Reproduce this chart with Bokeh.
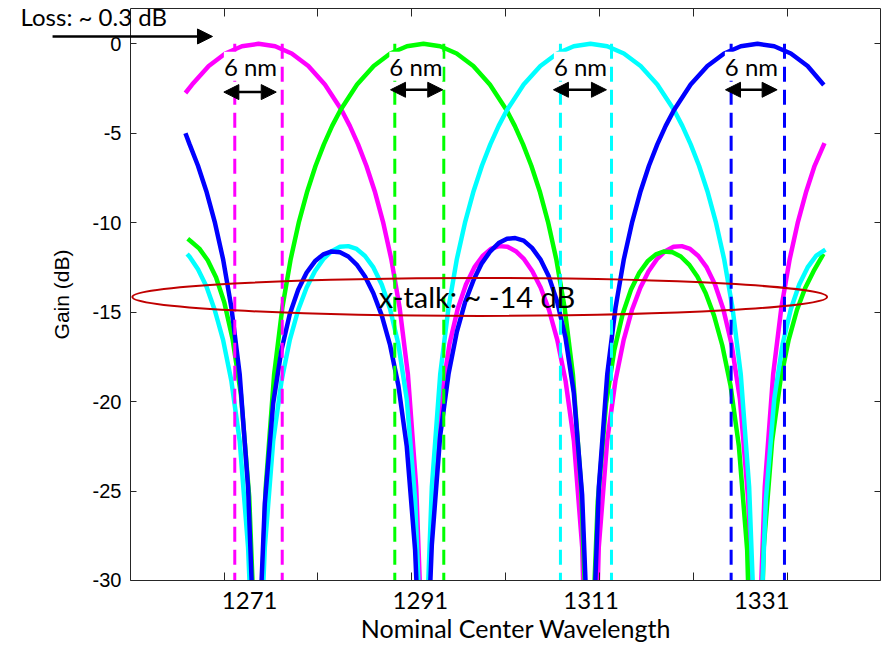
from bokeh.plotting import figure
from bokeh.models import FixedTicker, LinearAxis, Arrow, NormalHead, Label, Range1d, ColumnDataSource
from bokeh.core.properties import value
from bokeh.embed import file_html
from bokeh.resources import INLINE

# ---------------- data ----------------
mag_x = [1263.47, 1264.25, 1266.20, 1268.14, 1270.09, 1272.03, 1273.98, 1275.92, 1277.87, 1279.81,
         1281.76, 1282.73, 1283.70, 1284.67, 1285.65, 1286.62, 1287.59, 1288.56, 1289.54, 1290.51,
         1291.00, 1291.48, 1291.97, 1292.45, 1293.43, 1294.40, 1295.37, 1296.34, 1297.32, 1298.29,
         1299.26, 1300.23, 1301.21, 1302.18, 1303.15, 1304.12, 1305.10, 1306.07, 1307.04, 1308.01,
         1308.99, 1309.96, 1310.93, 1311.90, 1312.88, 1313.85, 1314.82, 1315.79, 1316.77, 1317.74,
         1318.71, 1319.68, 1320.66, 1321.63, 1322.60, 1323.57, 1324.55, 1325.52, 1326.49, 1327.46,
         1328.44, 1329.41, 1329.90, 1330.38, 1330.87, 1331.35, 1332.33, 1333.30, 1334.27, 1335.24,
         1336.22, 1337.19, 1338.35]
mag_y = [-2.75, -2.28, -1.24, -0.54, -0.14, 0.00, -0.14, -0.54, -1.24, -2.28,
         -3.70, -4.59, -5.62, -6.82, -8.24, -9.95, -12.04, -14.73, -18.49, -24.79,
         -31.0, -45, -31.3, -25.47, -19.86, -16.80, -14.82, -13.45, -12.50, -11.86,
         -11.47, -11.31, -11.35, -11.59, -12.04, -12.71, -13.64, -14.88, -16.55, -18.84,
         -22.22, -28.15, -45, -28.15, -22.22, -18.84, -16.55, -14.88, -13.64, -12.71,
         -12.04, -11.59, -11.35, -11.31, -11.47, -11.86, -12.50, -13.45, -14.82, -16.80,
         -19.86, -25.47, -31.3, -45, -31.0, -24.79, -18.49, -14.73, -12.04, -9.95,
         -8.24, -6.82, -5.55]

grn_x = [1263.74, 1264.13, 1265.10, 1266.08, 1267.05, 1268.02, 1268.99, 1269.97, 1270.94, 1271.42,
         1271.91, 1272.40, 1272.88, 1273.86, 1274.83, 1275.80, 1276.77, 1277.75, 1278.72, 1279.69,
         1280.66, 1281.64, 1283.58, 1285.53, 1287.47, 1289.42, 1291.36, 1293.31, 1295.25, 1297.20,
         1299.14, 1301.09, 1302.06, 1303.03, 1304.00, 1304.98, 1305.95, 1306.92, 1307.89, 1308.87,
         1309.84, 1310.32, 1310.81, 1311.30, 1311.78, 1312.76, 1313.73, 1314.70, 1315.67, 1316.65,
         1317.62, 1318.59, 1319.56, 1320.54, 1321.51, 1322.48, 1323.45, 1324.43, 1325.40, 1326.37,
         1327.34, 1328.32, 1329.29, 1330.26, 1331.23, 1332.21, 1333.18, 1334.15, 1335.12, 1336.10,
         1337.07, 1338.23]
grn_y = [-10.9, -11.05, -11.45, -12.1, -13.05, -14.45, -16.5, -19.6, -25.3, -31.2,
         -45, -31.0, -24.79, -18.49, -14.73, -12.04, -9.95, -8.24, -6.82, -5.62,
         -4.59, -3.70, -2.28, -1.24, -0.54, -0.14, 0.0, -0.14, -0.54, -1.24,
         -2.28, -3.70, -4.59, -5.62, -6.82, -8.24, -9.95, -12.04, -14.73, -18.49,
         -24.79, -31.0, -45, -31.3, -25.6, -20.1, -17.1, -15.1, -13.75, -12.8,
         -12.16, -11.77, -11.61, -11.65, -11.89, -12.34, -13.01, -13.94, -15.18, -16.85,
         -19.1, -22.5, -28.3, -45, -28.15, -22.22, -18.84, -16.55, -14.88, -13.64,
         -12.71, -11.75]

cyn_x = [1263.67, 1263.96, 1264.94, 1265.92, 1266.90, 1267.88, 1268.85, 1269.83, 1270.81, 1271.20,
         1271.79, 1272.38, 1272.77, 1273.75, 1274.73, 1275.70, 1276.68, 1277.66, 1278.64, 1279.62,
         1280.60, 1281.58, 1282.55, 1283.53, 1284.51, 1285.49, 1286.47, 1287.45, 1288.42, 1289.40,
         1290.38, 1290.87, 1291.36, 1291.85, 1292.34, 1293.32, 1294.30, 1295.27, 1296.25, 1297.23,
         1298.21, 1299.19, 1300.17, 1301.15, 1303.10, 1305.06, 1307.02, 1308.97, 1310.93, 1312.89,
         1314.84, 1316.80, 1318.76, 1320.72, 1321.69, 1322.67, 1323.65, 1324.63, 1325.61, 1326.59,
         1327.56, 1328.54, 1329.52, 1330.01, 1330.50, 1330.99, 1331.48, 1332.46, 1333.44, 1334.41,
         1335.39, 1336.37, 1337.35, 1338.46]
cyn_y = [-11.75, -11.9, -12.6, -13.55, -14.88, -16.55, -18.84, -22.22, -28.15, -32.6,
         -45, -32.6, -28.15, -22.22, -18.84, -16.55, -14.88, -13.64, -12.71, -12.04,
         -11.59, -11.35, -11.31, -11.47, -11.86, -12.50, -13.45, -14.82, -16.80, -19.86,
         -25.47, -31.3, -45, -31.0, -24.79, -18.49, -14.73, -12.04, -9.95, -8.24,
         -6.82, -5.62, -4.59, -3.70, -2.28, -1.24, -0.54, -0.14, 0.0, -0.14,
         -0.54, -1.24, -2.28, -3.70, -4.59, -5.62, -6.82, -8.24, -9.95, -12.04,
         -14.73, -18.49, -24.79, -31.0, -45, -31.3, -25.47, -19.86, -16.80, -14.82,
         -13.45, -12.50, -11.86, -11.5]

blu_x = [1263.47, 1263.96, 1264.94, 1265.92, 1266.90, 1267.88, 1268.85, 1269.83, 1270.81, 1271.30,
         1271.79, 1272.28, 1272.77, 1273.75, 1274.73, 1275.70, 1276.68, 1277.66, 1278.64, 1279.62,
         1280.60, 1281.58, 1282.55, 1283.53, 1284.51, 1285.49, 1286.47, 1287.45, 1288.42, 1289.40,
         1290.38, 1290.77, 1291.36, 1291.95, 1292.34, 1293.32, 1294.30, 1295.27, 1296.25, 1297.23,
         1298.21, 1299.19, 1300.17, 1301.15, 1302.12, 1303.10, 1304.08, 1305.06, 1306.04, 1307.02,
         1307.99, 1308.97, 1309.95, 1310.44, 1310.93, 1311.42, 1311.91, 1312.89, 1313.87, 1314.84,
         1315.82, 1316.80, 1317.78, 1318.76, 1319.74, 1320.72, 1322.67, 1324.63, 1326.59, 1328.54,
         1330.50, 1332.46, 1334.41, 1336.37, 1338.27]
blu_y = [-5.0, -5.62, -6.82, -8.24, -9.95, -12.04, -14.73, -18.49, -24.79, -31.0,
         -45, -31.3, -25.7, -20.1, -17.1, -15.1, -13.75, -12.8, -12.16, -11.77,
         -11.61, -11.65, -11.89, -12.34, -13.01, -13.94, -15.18, -16.85, -19.1, -22.5,
         -28.3, -32.7, -45, -32.6, -28.0, -21.9, -18.45, -16.1, -14.43, -13.2,
         -12.26, -11.6, -11.14, -10.9, -10.86, -11.0, -11.41, -12.05, -13.0, -14.4,
         -16.4, -19.5, -25.2, -31.2, -45, -31.0, -24.79, -18.49, -14.73, -12.04,
         -9.95, -8.24, -6.82, -5.62, -4.59, -3.70, -2.28, -1.24, -0.54, -0.14,
         0.0, -0.14, -0.54, -1.24, -2.3]

series_colors = ["#FF00FF", "#00FF00", "#00FFFF", "#0000FF"]

# 6 nm pass-band windows (dashed verticals), from 0 dB down to the bottom
win_lo = [1269.25, 1288.00, 1307.41, 1327.41]
win_hi = [1274.81, 1293.74, 1313.39, 1333.66]
win_top = 0.0

# "6 nm" double arrows and labels
arr_x0 = [1267.97, 1287.50, 1306.59, 1326.75]
arr_x1 = [1274.11, 1293.62, 1312.80, 1332.80]
arr_y = [-2.7, -2.57, -2.57, -2.57]
nm_label_x = [1271.09, 1290.48, 1309.76, 1329.79]
nm_label_y = [-1.25, -1.25, -1.25, -1.25]
nm_label_text = ["6 nm", "6 nm", "6 nm", "6 nm"]

# cross-talk ellipse and label
xtalk_x = [1297.95]
xtalk_y = [-14.15]
xtalk_w = [81.4]
xtalk_h = [2.12]
xtalk_label_x = [1297.63]
xtalk_label_y = [-14.12]
xtalk_text = ["x-talk: ~ -14 dB"]

# loss annotation
loss_arrow = dict(x0=1247.9, x1=1266.64, y=0.41)
loss_label = dict(x=1244.15, y=1.50, text="Loss: ~ 0.3 dB")

# axes: the drawing canvas spans a little more than the axes box
canvas_x = (1241.80, 1345.38)
canvas_y = (-33.69, 2.42)
box_x = (1257.03, 1344.91)
box_y = (-30.0, 1.97)
xlabel_span = (1259.5, 1344.9)
x_tick_vals = [1271, 1291, 1311, 1331]
x_tick_marks = [1268, 1279, 1290, 1301, 1312, 1323, 1334]
y_tick_vals = [0, -5, -10, -15, -20, -25, -30]
y_tick_labels = {0: "0", -5: "-5", -10: "-10", -15: "-15", -20: "-20", -25: "-25", -30: "-30"}

# ---------------- figure ----------------
AX = "#262626"
p = figure(width=884, height=646, output_backend="svg", toolbar_location=None,
           x_range=Range1d(*canvas_x), y_range=Range1d(*canvas_y),
           x_axis_location=None, y_axis_location=None,
           min_border_left=0, min_border_right=0, min_border_top=0, min_border_bottom=0)
p.xgrid.visible = False
p.ygrid.visible = False
p.outline_line_color = None
p.background_fill_color = "white"
p.border_fill_color = "white"

# curves
for xs, ys, c in zip([mag_x, grn_x, cyn_x, blu_x], [mag_y, grn_y, cyn_y, blu_y], series_colors):
    p.line(xs, ys, line_color=c, line_width=4.5)

# dashed pass-band limits
p.segment(x0=win_lo, y0=[win_top] * 4, x1=win_lo, y1=[box_y[0]] * 4,
          line_color=series_colors, line_width=3, line_dash="15 8")
p.segment(x0=win_hi, y0=[win_top] * 4, x1=win_hi, y1=[box_y[0]] * 4,
          line_color=series_colors, line_width=3, line_dash="15 8")

# white mask below the axes box (the curves are cut off at the bottom of the box)
p.quad(left=[box_x[0]], right=[box_x[1]], bottom=[canvas_y[0]], top=[box_y[0]],
       fill_color="white", line_color=None)

# 6 nm labels
p.text(x=nm_label_x, y=nm_label_y, text=nm_label_text, text_font=value("Lato"),
       text_font_size="24px", text_align="center", text_baseline="alphabetic",
       text_color="black", background_fill_color="white")

arr_src = ColumnDataSource(dict(x0=arr_x0, x1=arr_x1, y=arr_y))
p.add_layout(Arrow(source=arr_src, x_start="x0", y_start="y", x_end="x1", y_end="y",
                   line_width=2.5, line_color="black",
                   start=NormalHead(size=15, fill_color="black", line_color="black"),
                   end=NormalHead(size=15, fill_color="black", line_color="black")))

# cross talk ellipse
p.ellipse(x=xtalk_x, y=xtalk_y, width=xtalk_w, height=xtalk_h, fill_color=None,
          line_color="#C00000", line_width=2)
p.text(x=xtalk_label_x, y=xtalk_label_y, text=xtalk_text, text_font=value("Lato"),
       text_font_size="29px", text_align="center", text_baseline="alphabetic", text_color="black")

# loss annotation
p.add_layout(Arrow(x_start=loss_arrow["x0"], y_start=loss_arrow["y"], x_end=loss_arrow["x1"],
                   y_end=loss_arrow["y"], line_width=2.5, line_color="black",
                   end=NormalHead(size=15, fill_color="black", line_color="black")))
p.add_layout(Label(x=loss_label["x"], y=loss_label["y"], text=loss_label["text"],
                   text_font="Lato", text_font_size="24px", text_baseline="alphabetic",
                   text_color="black"))

# ---------------- axes (box) ----------------
xb = LinearAxis(ticker=FixedTicker(ticks=x_tick_vals, minor_ticks=x_tick_marks),
                fixed_location=box_y[0], bounds=box_x)
xb.axis_line_color = AX
xb.major_tick_in = 0
xb.major_tick_out = 0
xb.minor_tick_in = 8
xb.minor_tick_out = 0
xb.minor_tick_line_color = AX
xb.major_label_text_font = "Lato"
xb.major_label_text_font_size = "24px"
xb.major_label_text_color = "black"
xb.major_label_standoff = 12
p.add_layout(xb, "below")

# x-axis title (its own rule-less axis, so that it sits where the reference has it)
xlab = LinearAxis(ticker=FixedTicker(ticks=[], minor_ticks=[]),
                  fixed_location=box_y[0], bounds=xlabel_span)
xlab.axis_line_color = None
xlab.major_tick_in = 0
xlab.major_tick_out = 0
xlab.minor_tick_in = 0
xlab.minor_tick_out = 0
xlab.major_label_standoff = 0
xlab.axis_label = "Nominal Center Wavelength"
xlab.axis_label_text_font = "Lato"
xlab.axis_label_text_font_style = "normal"
xlab.axis_label_text_font_size = "25px"
xlab.axis_label_text_color = "black"
xlab.axis_label_standoff = 32
p.add_layout(xlab, "below")

xt = LinearAxis(ticker=FixedTicker(ticks=[], minor_ticks=x_tick_marks),
                fixed_location=box_y[1], bounds=box_x)
xt.axis_line_color = AX
xt.major_tick_in = 0
xt.major_tick_out = 0
xt.minor_tick_in = 8
xt.minor_tick_out = 0
xt.minor_tick_line_color = AX
p.add_layout(xt, "above")

yl = LinearAxis(ticker=FixedTicker(ticks=y_tick_vals, minor_ticks=[]),
                fixed_location=box_x[0], bounds=box_y)
yl.axis_line_color = AX
yl.major_tick_in = 6
yl.major_tick_out = 0
yl.major_tick_line_color = AX
yl.major_label_overrides = y_tick_labels
yl.major_label_text_font = "Liberation Sans"
yl.major_label_text_font_size = "20px"
yl.major_label_text_color = "black"
yl.major_label_standoff = 9
yl.axis_label = "Gain (dB)"
yl.axis_label_text_font = "Liberation Sans"
yl.axis_label_text_font_style = "normal"
yl.axis_label_text_font_size = "21px"
yl.axis_label_text_color = "black"
yl.axis_label_standoff = 17
p.add_layout(yl, "left")

yr = LinearAxis(ticker=FixedTicker(ticks=[], minor_ticks=y_tick_vals),
                fixed_location=box_x[1], bounds=box_y)
yr.axis_line_color = AX
yr.major_tick_in = 0
yr.major_tick_out = 0
yr.minor_tick_in = 6
yr.minor_tick_out = 0
yr.minor_tick_line_color = AX
p.add_layout(yr, "right")

open("out.html", "w").write(file_html(p, INLINE))
